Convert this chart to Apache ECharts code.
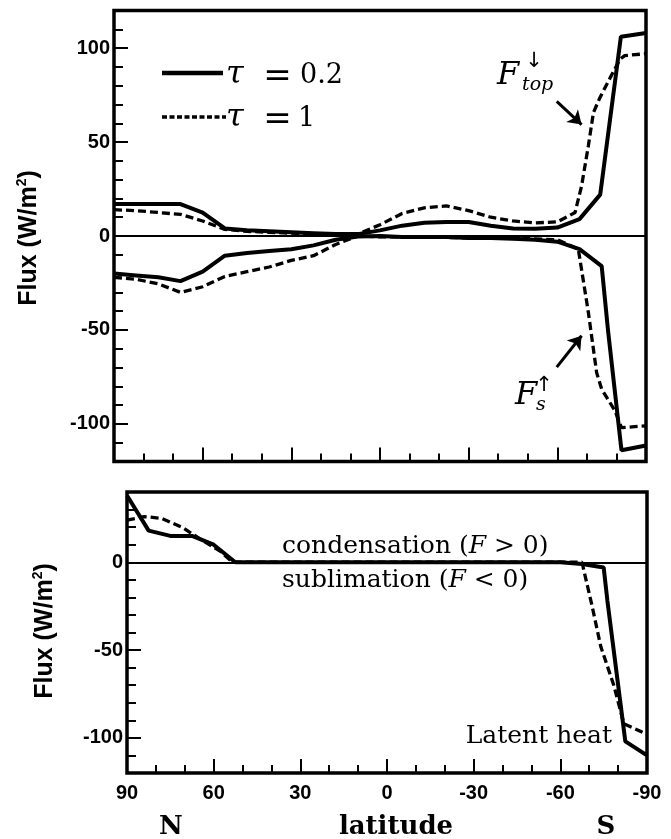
<!DOCTYPE html>
<html><head><meta charset="utf-8">
<script src="https://cdn.jsdelivr.net/npm/echarts@6/dist/echarts.min.js"></script>
<style>html,body{margin:0;padding:0;background:#fff}#c{width:671px;height:839px}</style>
</head><body><div id="c"></div>
<script>
// ---- Top panel: F_top (downward at top) ----
const ftopLatA = [90,82.5,75,67.5,60,52.5,45,37.5,30,22.5,15,7.5,0,-7.5,-15,-22.5,-30,-37.5,-45,-52.5,-60,-67.5,-74.5,-81.5,-90];
const ftopTau02 = [17,17,17,17,12.5,4,3,2.5,2,1.5,1,1,3,5.5,7,7.5,7.5,5.5,4,3.8,4.5,9,22,106,108];
const ftopLatB = [90,82.5,75,67.5,60,52.5,45,37.5,30,22.5,15,7.5,0,-7.5,-15,-22.5,-30,-37.5,-45,-52.5,-60,-66,-68.2,-70.5,-72.2,-74.4,-77.8,-81.2,-82.8,-90];
const ftopTau1 = [14,13.5,12.5,11.5,8,3.5,2.5,2,1.5,1,0.5,1,6,12,15,16,13.5,10,8,7,7.5,12.5,26.6,48,65.6,73.6,84,94,96,97];
// ---- Top panel: F_s (upward at surface) ----
const fsLatA = [90,82.5,75,67.5,60,52.5,45,37.5,30,22.5,15,7.5,0,-7.5,-15,-22.5,-30,-37.5,-45,-52.5,-60,-67.5,-75,-77.2,-81.7,-90];
const fsTau02 = [-20,-21,-22,-24,-19,-10.5,-9,-8,-7,-5,-2,-0.3,0,-0.5,-0.5,-0.5,-1,-1,-1.5,-2,-3,-7,-16,-51,-114,-111.5];
const fsLatB = [90,82.5,75,67.5,60,52.5,45,37.5,30,22.5,15,7.5,0,-15,-30,-45,-60,-67.1,-70.5,-73.3,-75,-79.5,-81.7,-90];
const fsTau1 = [-22,-23,-25.5,-30,-27,-21.5,-19,-16.5,-13,-10.5,-4.5,0,-0.5,-0.5,-1,-1,-2,-7,-40.7,-72.7,-81.5,-93,-102,-101];
// ---- Bottom panel: latent heat ----
const latLatA = [90,82.5,75,67.5,60,52.5,-60,-67.5,-75,-76.3,-82.5,-90];
const latTau02 = [38,18,15,15,10,0,0,-1,-3,-22,-102,-110];
const latLatB = [90,84,78,70.5,64.5,57.5,53.5,-67.5,-71,-74,-78.5,-82,-90];
const latTau1 = [24,26,25,19.5,13,6,0,0,-25,-48,-70,-92,-98];
// ---- ticks ----
const topYLabels = [100,50,0,-50,-100];
const botYLabels = [0,-50,-100];

function zip(a,b){return a.map((x,i)=>[x,b[i]]);}
const chart = echarts.init(document.getElementById('c'));
const BLK = '#000';
function tk(len){return {show:true,inside:true,length:len,lineStyle:{color:BLK,width:2}};}
const lblFont = {fontFamily:'Liberation Sans',fontWeight:'bold',fontSize:20,color:BLK};
function xAx(grid,interval,len,showLbl){
  return {type:'value',gridIndex:grid,min:-90,max:90,inverse:true,interval:interval,position:'bottom',
    axisLine:{show:false,onZero:false},splitLine:{show:false},axisTick:tk(len),
    axisLabel:Object.assign({show:showLbl,margin:10},lblFont)};
}
function yAx(grid,min,max,len,custom){
  const a = {type:'value',gridIndex:grid,min:min,max:max,interval:10,position:'left',
    axisLine:{show:false,onZero:false},splitLine:{show:false},axisTick:tk(len),
    axisLabel:Object.assign({show:false,margin:4},lblFont)};
  if(custom){
    a.axisTick.customValues = custom;
    a.axisLabel.show = true;
    a.axisLabel.customValues = custom;
  }
  return a;
}
const solid = {color:BLK,width:4,type:'solid'};
const dashed = {color:BLK,width:3.3,type:[8,4]};
function ser(x,y,lat,val,style,extra){
  return Object.assign({type:'line',xAxisIndex:x,yAxisIndex:y,data:zip(lat,val),symbol:'none',
    lineStyle:style,silent:true,z:3},extra||{});
}
const zeroLine = {markLine:{silent:true,symbol:'none',label:{show:false},
  lineStyle:{color:BLK,width:2.2,type:'solid'},data:[{yAxis:0}]}};
const arrows = {markLine:{silent:true,symbol:['none','arrow'],symbolSize:13,label:{show:false},
  lineStyle:{color:BLK,width:3,type:'solid'},
  data:[[{coord:[-59.8,71.6]},{coord:[-68.2,59.3]}],[{coord:[-59.8,-69.8]},{coord:[-68.2,-53.1]}]]}};

const serif = 'DejaVu Serif';
function txt(x,y,text,opts){
  return {type:'text',x:x,y:y,z:10,style:Object.assign({text:text,fill:BLK,fontFamily:serif,fontSize:25,
    align:'left',verticalAlign:'middle'},opts||{})};
}
const richLab = {
  a:{fontFamily:serif,fontSize:25,color:BLK},
  b:{fontFamily:serif,fontSize:25,fontStyle:'italic',color:BLK}
};
const yName = function(x,y){
  return {type:'text',x:x,y:y,rotation:Math.PI/2,z:10,style:{text:'Flux (W/m{s|2})',fill:BLK,
    fontFamily:'Liberation Sans',fontWeight:'bold',fontSize:25,align:'center',verticalAlign:'middle',
    rich:{s:{fontFamily:'Liberation Sans',fontWeight:'bold',fontSize:14,padding:[0,0,14,0],color:BLK}}}};
};

chart.setOption({
  animation:false,
  backgroundColor:'#fff',
  grid:[
    {left:114,top:10.5,width:532,height:451,show:true,borderColor:BLK,borderWidth:3.5,containLabel:false},
    {left:127,top:492,width:520,height:281,show:true,borderColor:BLK,borderWidth:3.5,containLabel:false}
  ],
  xAxis:[xAx(0,10,8,false),xAx(0,30,14,false),xAx(1,10,8,false),xAx(1,30,14,true)],
  yAxis:[yAx(0,-120,120,14,topYLabels),yAx(0,-120,120,9,null),yAx(1,-120,40,14,botYLabels),yAx(1,-120,40,9,null)],
  series:[
    ser(0,0,ftopLatA,ftopTau02,solid,zeroLine),
    ser(0,0,ftopLatB,ftopTau1,dashed,arrows),
    ser(0,0,fsLatA,fsTau02,solid),
    ser(0,0,fsLatB,fsTau1,dashed),
    ser(3,2,latLatA,latTau02,solid,zeroLine),
    ser(3,2,latLatB,latTau1,dashed)
  ],
  graphic:[
    yName(29,238), yName(45,631),
    // legend
    {type:'line',shape:{x1:162,y1:73,x2:223,y2:73},style:{stroke:BLK,lineWidth:4.5}},
    {type:'line',shape:{x1:162,y1:117,x2:226,y2:117},style:{stroke:BLK,lineWidth:3.5,lineDash:[5,2.5]}},
    txt(226,75,'τ',{fontStyle:'italic',fontSize:32}),
    txt(277.5,77,'=',{align:'center',fontSize:34}),
    txt(300,76,'0.2',{fontSize:27}),
    txt(226,118,'τ',{fontStyle:'italic',fontSize:32}),
    txt(277.5,120,'=',{align:'center',fontSize:34}),
    txt(298,119,'1',{fontSize:27}),
    // F_top annotation
    txt(497,76,'F',{fontStyle:'italic',fontSize:32}),
    txt(534,62,'↓',{align:'center',fontFamily:'DejaVu Sans',fontSize:21}),
    txt(522,85,'top',{fontStyle:'italic',fontSize:19}),
    // F_s annotation
    txt(515,396,'F',{fontStyle:'italic',fontSize:32}),
    txt(544,386,'↑',{align:'center',fontFamily:'DejaVu Sans',fontSize:21}),
    txt(536,405,'s',{fontStyle:'italic',fontSize:19}),
    // bottom panel labels
    txt(282,546,'{a|condensation (}{b|F}{a| > 0)}',{rich:richLab}),
    txt(282,580.5,'{a|sublimation (}{b|F}{a| < 0)}',{rich:richLab}),
    txt(612,736,'Latent heat',{align:'right'}),
    txt(171,827,'N',{align:'center',fontWeight:'bold',fontSize:26}),
    txt(396,827,'latitude',{align:'center',fontWeight:'bold',fontSize:26}),
    txt(606,827,'S',{align:'center',fontWeight:'bold',fontSize:26})
  ]
});
</script></body></html>
